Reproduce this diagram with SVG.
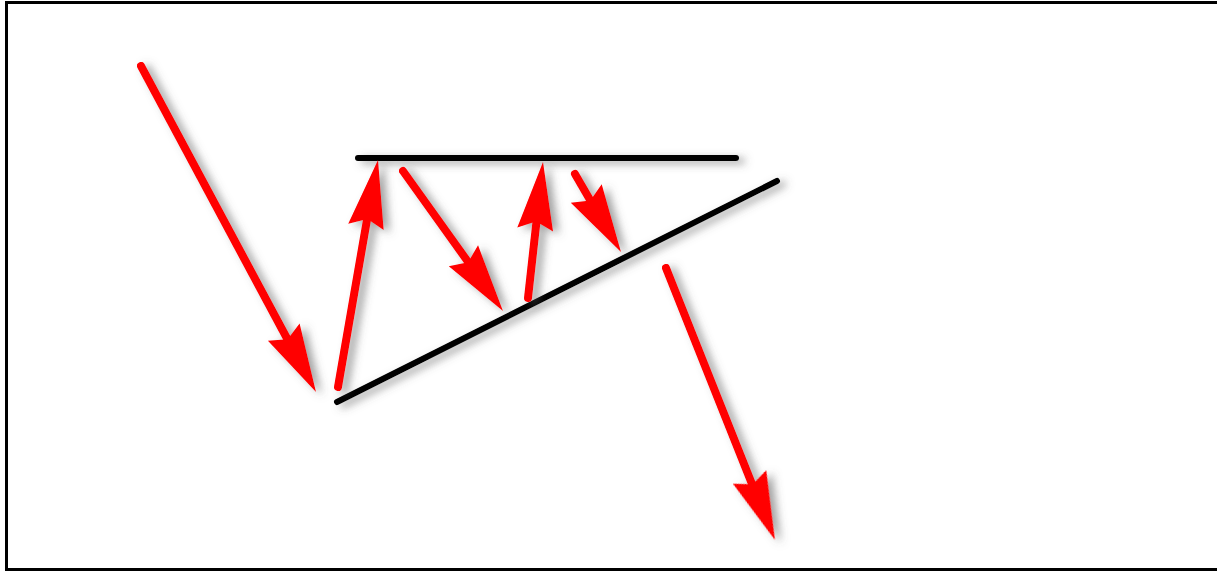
<svg xmlns="http://www.w3.org/2000/svg" width="1217" height="571" viewBox="0 0 1217 571">
  <defs>
    <filter id="sh" filterUnits="userSpaceOnUse" x="0" y="0" width="1217" height="571">
      <feDropShadow dx="6" dy="3" stdDeviation="4" flood-color="#555" flood-opacity="0.55"/>
    </filter>
    <path id="head" d="M0,0 L-68,-18 L-60,0 L-68,18 Z"/>
  </defs>
  <style>
    .bl { stroke: #000; stroke-width: 6; stroke-linecap: round; fill: none; }
    .sh { stroke: #ff0000; stroke-width: 8; stroke-linecap: round; fill: none; }
    .hd { fill: #ff0000; }
    .frame { stroke: #000; stroke-width: 3; fill: none; }
  </style>
  <rect width="1217" height="571" fill="#fff"/>
  <g id="frame">
    <path class="frame" d="M6.5,571 L6.5,2.5 L1217,2.5"/>
    <path class="frame" d="M5,569.5 L1217,569.5"/>
  </g>
  <g id="resistance" filter="url(#sh)">
    <line class="bl" x1="358" y1="158" x2="736" y2="158"/>
  </g>
  <g id="support" filter="url(#sh)">
    <line class="bl" x1="337" y1="402" x2="777" y2="181"/>
  </g>
  <g id="connectors" filter="url(#sh)">
    <g id="a1">
      <line class="sh" x1="141" y1="66" x2="290" y2="344"/>
      <use href="#head" class="hd" transform="translate(316,392) rotate(61.7)"/>
    </g>
    <g id="a2">
      <line class="sh" x1="338" y1="387" x2="368" y2="214"/>
      <use href="#head" class="hd" transform="translate(378,160) rotate(-79.8)"/>
    </g>
    <g id="a3">
      <line class="sh" x1="403" y1="171" x2="471" y2="266"/>
      <use href="#head" class="hd" transform="translate(503,311) rotate(54.4)"/>
    </g>
    <g id="a4">
      <line class="sh" x1="528" y1="298" x2="537" y2="217"/>
      <use href="#head" class="hd" transform="translate(543,162) rotate(-83.4)"/>
    </g>
    <g id="a5">
      <line class="sh" x1="575" y1="174" x2="593" y2="205"/>
      <use href="#head" class="hd" transform="translate(621,252) rotate(59.25)"/>
    </g>
    <g id="a6">
      <line class="sh" x1="666" y1="268" x2="754" y2="489"/>
      <use href="#head" class="hd" transform="translate(775,540) rotate(68.05)"/>
    </g>
  </g>
</svg>
